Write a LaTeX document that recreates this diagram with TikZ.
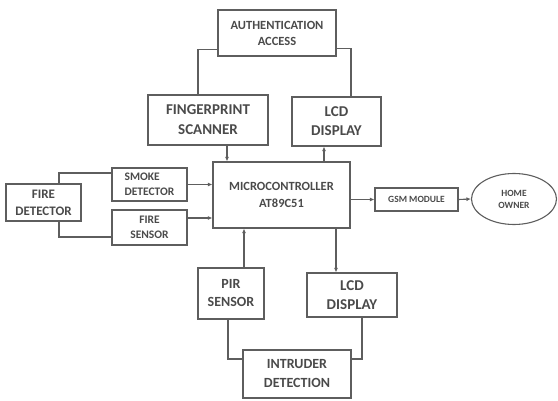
\documentclass[tikz,border=0pt]{standalone}
\usepackage{fontspec}
\setmainfont{Carlito}
\usetikzlibrary{arrows.meta,shapes.geometric}
\definecolor{boxc}{HTML}{5E5E5E}
\definecolor{txtc}{HTML}{4A4A4A}
\newcommand{\fsz}[2]{\bfseries\fontsize{#1}{#2}\selectfont}
\begin{document}
\begin{tikzpicture}[x=1pt,y=-1pt,
  blk/.style={draw=boxc,line width=1.1pt,rectangle,inner sep=0pt,align=center,text=txtc,font=\fsz{12.5}{17}},
  wire/.style={draw=boxc,line width=1.1pt},
  arr/.style={wire,-{Latex[length=4.5pt,width=4pt]}}]
\useasboundingbox (0,0) rectangle (558,401);
\node[blk,font=\fsz{12.5}{16},minimum width=118pt,minimum height=46pt] (auth) at (277,33) {AUTHENTICATION\\ACCESS};
\node[blk,font=\fsz{15}{20},minimum width=120pt,minimum height=50pt] (finger) at (208,120) {FINGERPRINT\\SCANNER};
\node[blk,font=\fsz{15}{19},minimum width=89pt,minimum height=49pt] (lcdA) at (336.5,121.5) {LCD\\DISPLAY};
\node[blk,font=\fsz{12.5}{17},minimum width=137pt,minimum height=66pt] (mcu) at (281.5,195) {MICROCONTROLLER\\AT89C51};
\node[blk,font=\fsz{11.5}{15},align=left,minimum width=75pt,minimum height=33pt] (smoke) at (149.5,184.5) {SMOKE\\DETECTOR};
\node[blk,font=\fsz{11.5}{15},minimum width=75pt,minimum height=35pt] (fsen) at (149.5,227.5) {FIRE\\SENSOR};
\node[blk,font=\fsz{13}{17},minimum width=75pt,minimum height=37pt] (fdet) at (43.5,202.5) {FIRE\\DETECTOR};
\node[blk,font=\fsz{9.5}{12},minimum width=83pt,minimum height=23pt] (gsm) at (416.5,199.5) {GSM MODULE};
\node[blk,font=\fsz{9.5}{12},ellipse,minimum width=85pt,minimum height=51pt] (owner) at (514,199) {HOME\\OWNER};
\node[blk,font=\fsz{14}{18},minimum width=66pt,minimum height=51pt] (pir) at (231,293.5) {PIR\\SENSOR};
\node[blk,font=\fsz{15}{19},minimum width=90pt,minimum height=44pt] (lcdB) at (352,295) {LCD\\DISPLAY};
\node[blk,font=\fsz{14}{19},minimum width=108pt,minimum height=48pt] (intr) at (297,374) {INTRUDER\\DETECTION};
% authentication links
\draw[wire] ([yshift=7pt]auth.south west) -| ([xshift=-10pt]finger.north);
\draw[wire] ([yshift=8pt]auth.south east) -| ([xshift=14.5pt]lcdA.north);
% to/from microcontroller
\draw[arr] ([xshift=19pt]finger.south) -- ([xshift=19pt]finger.south |- mcu.north);
\draw[arr] ([xshift=-12.5pt]lcdA.south |- mcu.north) -- ([xshift=-12.5pt]lcdA.south);
\draw[arr] (smoke.east) -- (smoke.east -| mcu.west);
\draw[arr] ([yshift=9.5pt]fsen.east) -- ([yshift=9.5pt]fsen.east -| mcu.west);
\draw[arr] ([xshift=13pt]pir.north) -- ([xshift=13pt]pir.north |- mcu.south);
\draw[arr] ([xshift=-16pt]lcdB.north |- mcu.south) -- ([xshift=-16pt]lcdB.north);
\draw[arr] (mcu.east |- gsm.west) -- (gsm.west);
\draw[arr] (gsm.east) -- (owner.west);
% fire detector links
\draw[wire] ([xshift=15.5pt]fdet.north) |- ([yshift=11.5pt]smoke.west);
\draw[wire] ([xshift=15.5pt]fdet.south) |- ([yshift=-9.5pt]fsen.west);
% intruder links
\draw[wire] ([xshift=-3pt]pir.south) |- ([yshift=15pt]intr.west);
\draw[wire] ([xshift=10pt]lcdB.south) |- ([yshift=15pt]intr.east);
\end{tikzpicture}
\end{document}
